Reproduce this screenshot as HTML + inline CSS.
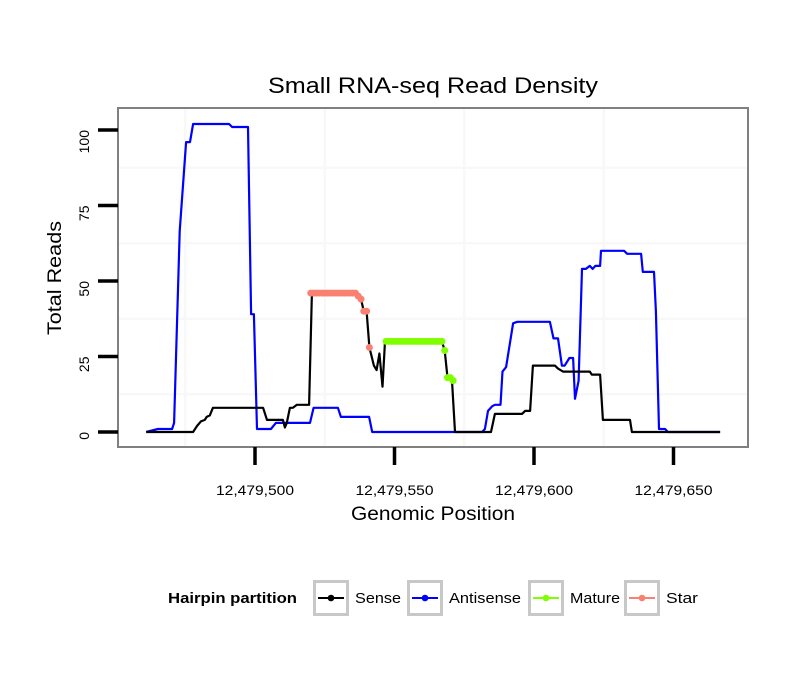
<!DOCTYPE html>
<html><head><meta charset="utf-8"><style>
body{margin:0;background:#fff;}
svg text{font-family:"Liberation Sans",Arial,sans-serif;}
</style></head><body>
<svg id="chart" width="810" height="690" xmlns="http://www.w3.org/2000/svg">
<rect width="810" height="690" fill="#fff"/>
<text x="268" y="93" textLength="330" lengthAdjust="spacingAndGlyphs" font-size="22">Small RNA-seq Read Density</text>
<g id="grid"></g>
<g id="series"></g>
<rect x="118" y="108" width="630" height="339" fill="none" stroke="#808080" stroke-width="2"/>
<g id="axes"></g>
<text x="351" y="520" textLength="164" lengthAdjust="spacingAndGlyphs" font-size="19">Genomic Position</text>
<text transform="translate(61,335) rotate(-90)" textLength="114" lengthAdjust="spacingAndGlyphs" font-size="19">Total Reads</text>
<g id="legend"></g>
</svg>
<script>
const OFFSET = 12479000;
const xTickValues = [12479500, 12479550, 12479600, 12479650];
const xTickLabels = ["12,479,500", "12,479,550", "12,479,600", "12,479,650"];
const yTickValues = [0, 25, 50, 75, 100];
const yTickLabels = ["0", "25", "50", "75", "100"];
const antisensePos = [461,465.2,470.3,471,473,475.3,476.7,477.8,490.7,491.8,497.5,498.6,499.6,500.7,505.7,507.5,519.7,521,529.7,530.8,540.9,542,581.4,582.4,583.5,585,586,588,588.7,590,592.5,594,605.7,607,608.6,610,611,612.7,614,614.7,616,617.2,618.6,620,621,622,623.7,624,632.3,633.4,638.4,639,643,643.7,644.8,647,648,666.7];
const antisenseVal = [0,1,1,3,66.5,96,96,102,102,101,101,39,39,1,1,3,3,8,8,5,5,0,0,1,7,8.5,9,9,20,21.5,36,36.5,36.5,31,31,22,22,24.5,24.5,11,17,54,54,55,54,55,55,60,60,59,59,53,53,40,1,1,0,0];
const sensePos = [461,477.8,479.2,480.6,482,482.7,483.8,484.9,502.9,504.3,505.3,510,510.7,511.4,512.5,513.6,515,519.4,520.4,536,537,538,539,540,541,542.6,543.6,544.6,545.7,546.6,567,568,569,570,570.6,571.7,584.6,586,595.7,596.8,598.6,599.6,607.5,608.6,610.4,620,620.7,623.7,624.7,634.4,635.1,666.7];
const senseVal = [0,0,2,3.5,4,5,5.5,8,8,4,4,4,1.5,3,8,8,9,9,46,46,45,44,40,40,28,22,20.5,26,15,30,30,27,18,18,17,0,0,6,6,7,7,22,22,21,20,20,19,19,4,4,0,0];
const starPos = [520,521,522,523,524,525,526,527,528,529,530,531,532,533,534,535,536,537,538,539,540,541];
const starVal = [46,46,46,46,46,46,46,46,46,46,46,46,46,46,46,46,46,45,44,40,40,28];
const maturePos = [547,548,549,550,551,552,553,554,555,556,557,558,559,560,561,562,563,564,565,566,567,568,569,570,571];
const matureVal = [30,30,30,30,30,30,30,30,30,30,30,30,30,30,30,30,30,30,30,30,30,27,18,18,17];
const legendLabels = ["Sense","Antisense","Mature","Star"];
const legendColors = ["#000000","#0000ff","#7fff00","#fa8072"];

const NS = "http://www.w3.org/2000/svg";
function xs(p){ return 255 + (p - 500) * 2.79; }
function ys(v){ return 432 - v * 3.02; }
function mk(tag, attrs, parent){ const e=document.createElementNS(NS,tag); for(const k in attrs) e.setAttribute(k,attrs[k]); parent.appendChild(e); return e; }

const grid = document.getElementById('grid');
[87.5,62.5,37.5,12.5].forEach(v=>{
  const l = mk('line',{x1:119,x2:747,y1:ys(v),y2:ys(v),stroke:'#f8f8f8','stroke-width':2.5},grid);
  
  
});
[475,525,575,625].forEach(p=>{
  const l = mk('line',{x1:xs(p),x2:xs(p),y1:109,y2:446,stroke:'#f8f8f8','stroke-width':2.5},grid);
  
  
});

const series = document.getElementById('series');
function line(pos, val, color, name){
  const d = pos.map((p,i)=>(i?'L':'M')+xs(p).toFixed(1)+','+ys(val[i]).toFixed(1)).join(' ');
  const path = mk('path',{d:d,fill:'none',stroke:color,'stroke-width':2.2,'stroke-linejoin':'round'},series);
  
  
}
line(antisensePos, antisenseVal, '#0000ff', 'antisense-line');
line(sensePos, senseVal, '#000000', 'sense-line');
function pts(pos, val, color, name){
  pos.forEach((p,i)=>{
    const c = mk('circle',{cx:xs(p),cy:ys(val[i]),r:3.5,fill:color},series);
    
    
  });
}
pts(starPos, starVal, '#fa8072', 'star-point');
pts(maturePos, matureVal, '#7fff00', 'mature-point');

const axes = document.getElementById('axes');
yTickValues.forEach((v,i)=>{
  const t = mk('line',{x1:98,x2:118,y1:ys(v),y2:ys(v),stroke:'#000','stroke-width':3.5},axes);
  
  
  const tx = mk('text',{transform:`translate(89,${ys(v)}) rotate(-90)`,'text-anchor':'end','font-size':14},axes);
  tx.textContent = yTickLabels[i];
  
  
});
xTickValues.forEach((v,i)=>{
  const x = xs(v-OFFSET);
  const t = mk('line',{x1:x,x2:x,y1:447,y2:465,stroke:'#000','stroke-width':3.5},axes);
  
  
  const tx = mk('text',{x:x-39,y:495,textLength:78,lengthAdjust:'spacingAndGlyphs','font-size':14},axes);
  tx.textContent = xTickLabels[i];
  
  
});

const legend = document.getElementById('legend');
const lt = mk('text',{x:168,y:603,'font-size':15,'font-weight':'bold',textLength:129,lengthAdjust:'spacingAndGlyphs'},legend);
lt.textContent = 'Hairpin partition';


const keyX = [313,407,528,624];
const labelW = [46,72,50,32];
legendLabels.forEach((lab,i)=>{
  const x = keyX[i];
  const r = mk('rect',{x:x+1.5,y:581.5,width:33,height:33,fill:'#fff',stroke:'#c8c8c8','stroke-width':3},legend);
  
  
  const l = mk('line',{x1:x+5,x2:x+31,y1:598,y2:598,stroke:legendColors[i],'stroke-width':2},legend);
  
  
  const c = mk('circle',{cx:x+18,cy:598,r:3.3,fill:legendColors[i]},legend);
  
  
  const t = mk('text',{x:x+42,y:603,'font-size':15,textLength:labelW[i],lengthAdjust:'spacingAndGlyphs'},legend);
  t.textContent = lab;
  
  
});
</script>
</body></html>
